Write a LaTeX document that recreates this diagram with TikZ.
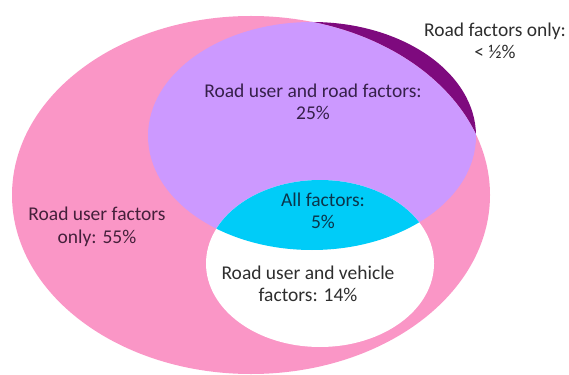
\documentclass[tikz,border=0pt]{standalone}
\usepackage{fontspec}
\setmainfont{Carlito}
\definecolor{userpink}{HTML}{FA96C6}
\definecolor{roadlav}{HTML}{CC99FF}
\definecolor{roaddark}{HTML}{7E0A7E}
\definecolor{allcyan}{HTML}{00CCF8}
\definecolor{txtpink}{HTML}{45203B}
\definecolor{txtlav}{HTML}{36204A}
\definecolor{txtcyan}{HTML}{0B354B}
\definecolor{txtgray}{HTML}{2E2E2E}
\tikzset{
  lbl/.style={align=center, inner sep=0pt, font=\fontsize{19.5}{22.5}\selectfont},
}
\begin{document}
\begin{tikzpicture}[x=1pt,y=-1pt]
\useasboundingbox (0,0) rectangle (569,374);
% road factors (dark part, only visible outside road user ellipse)
\fill[roaddark] (312,136) ellipse [x radius=164pt, y radius=114pt];
% road user ellipse
\fill[userpink] (251,195) ellipse [x radius=239pt, y radius=179pt];
% road user and road
\begin{scope}
  \clip (251,195) ellipse [x radius=239pt, y radius=179pt];
  \fill[roadlav] (312,136) ellipse [x radius=164pt, y radius=114pt];
\end{scope}
% vehicle ellipse
\fill[white] (320,263.5) ellipse [x radius=114pt, y radius=83.5pt];
% all factors
\begin{scope}
  \clip (312,136) ellipse [x radius=164pt, y radius=114pt];
  \fill[allcyan] (320,263.5) ellipse [x radius=114pt, y radius=83.5pt];
\end{scope}
% labels
\node[lbl, text=txtgray] (roadonly) at (495,41) {Road factors only:\\< ½\%};
\node[lbl, text=txtlav] (userroad) at (313,102) {Road user and road factors:\\25\%};
\node[lbl, text=txtcyan] (all) at (323,211) {All factors:\\5\%};
\node[lbl, text=txtpink] (useronly) at (97,227) {Road user factors\\only: 55\%};
\node[lbl, text=txtgray] (uservehicle) at (308,284) {Road user and vehicle\\factors: 14\%};
\end{tikzpicture}
\end{document}
